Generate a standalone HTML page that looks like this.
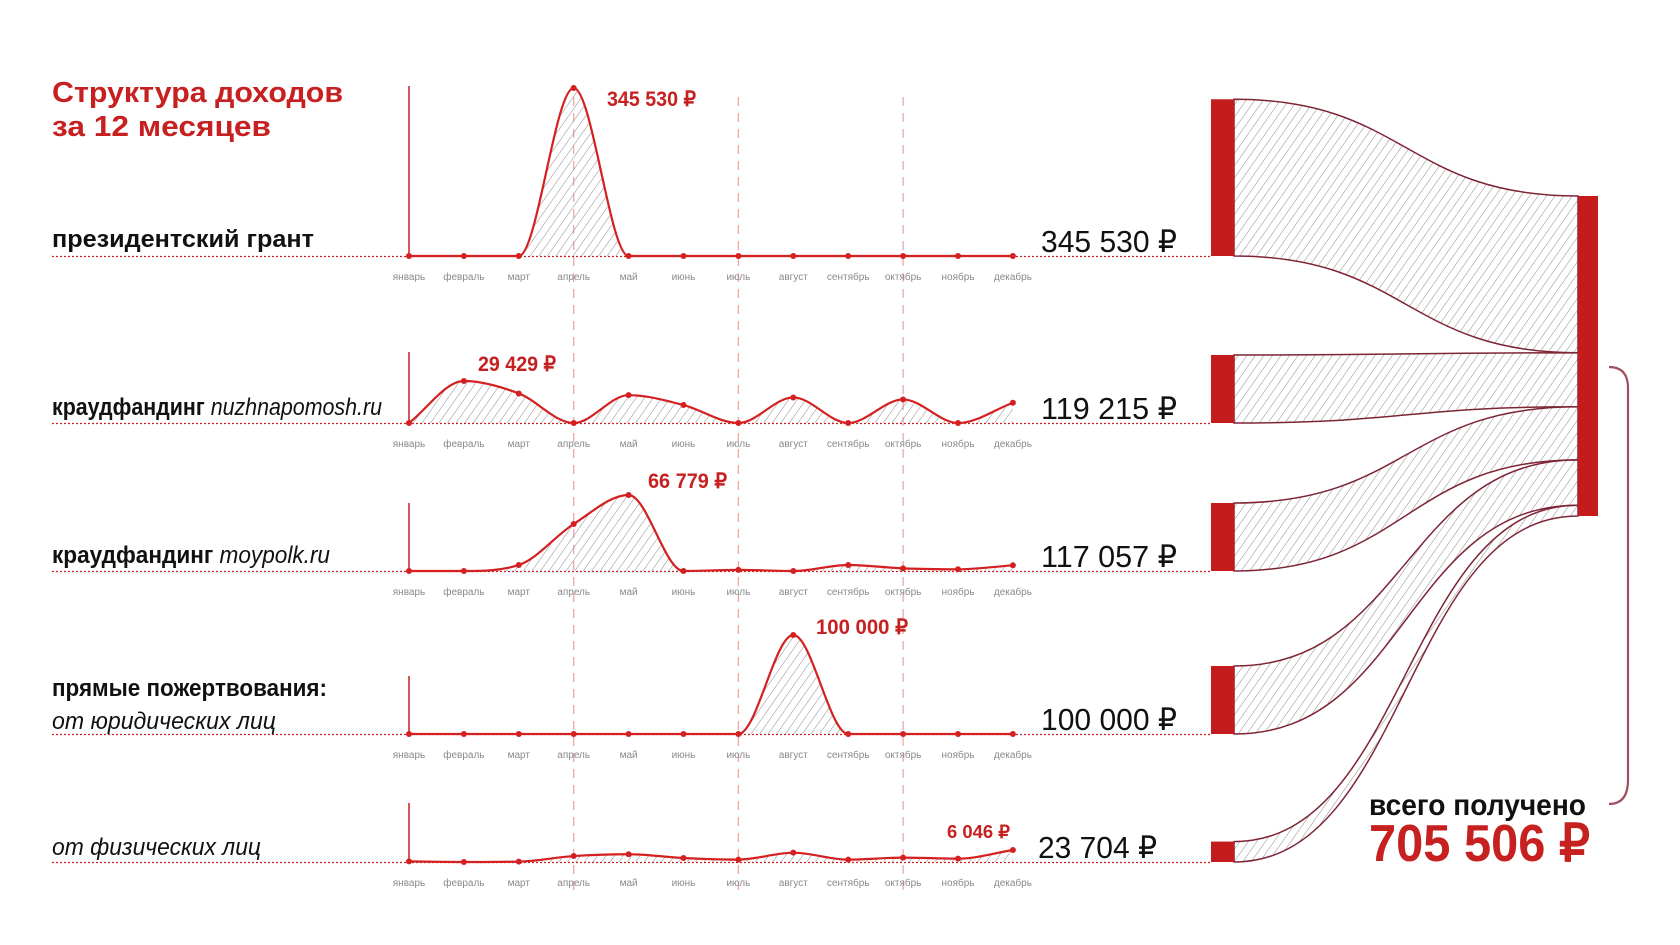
<!DOCTYPE html>
<html><head><meta charset="utf-8">
<style>
html,body{margin:0;padding:0;background:#fff;}
svg{display:block;}
text{font-family:"Liberation Sans Narrow","Liberation Sans",sans-serif;}
</style></head>
<body>
<svg id="chart" width="1680" height="945" viewBox="0 0 1680 945" xmlns="http://www.w3.org/2000/svg">
<defs>
<pattern id="hatch" patternUnits="userSpaceOnUse" width="7" height="7" patternTransform="rotate(35)">
<line x1="0" y1="0" x2="0" y2="7" stroke="#8a8a8a" stroke-width="1"/>
</pattern>
</defs>
<g id="titles">
<text x="52" y="102" font-size="29" font-weight="bold" fill="#c62020" textLength="291" lengthAdjust="spacingAndGlyphs">Структура доходов</text>
<text x="52" y="136" font-size="29" font-weight="bold" fill="#c62020" textLength="219" lengthAdjust="spacingAndGlyphs">за 12 месяцев</text>
<text x="1369" y="815" font-size="30" font-weight="bold" fill="#111" textLength="217" lengthAdjust="spacingAndGlyphs">всего получено</text>
<text x="1369" y="861" font-size="52" font-weight="bold" fill="#c62020" textLength="221" lengthAdjust="spacingAndGlyphs">705 506 ₽</text>
</g>
<g id="rows"></g>
<g id="sankey"></g>
</svg>
<script>
const months = ["январь","февраль","март","апрель","май","июнь","июль","август","сентябрь","октябрь","ноябрь","декабрь"];
const rowTotals = [345530, 119215, 117057, 100000, 23704];
const totalLabels = ["345 530 ₽","119 215 ₽","117 057 ₽","100 000 ₽","23 704 ₽"];
const peakLabels = ["345 530 ₽","29 429 ₽","66 779 ₽","100 000 ₽","6 046 ₽"];
const grantSeries = [0,0,0,345530,0,0,0,0,0,0,0,0];
const nuzhnaSeries = [0,29429,20700,0,19500,12600,0,17900,0,16500,0,14200];
const moypolkSeries = [0,0,5300,41300,66779,0,1000,0,5300,2300,1500,5000];
const legalSeries = [0,0,0,0,0,0,0,100000,0,0,0,0];
const personSeries = [300,0,200,3000,3900,2000,1200,4700,1200,2200,1700,6046];
const series = [grantSeries, nuzhnaSeries, moypolkSeries, legalSeries, personSeries];
const grandTotal = 705506;

const NS="http://www.w3.org/2000/svg";
function el(tag, attrs, parent){const e=document.createElementNS(NS,tag);for(const k in attrs)e.setAttribute(k,attrs[k]);parent.appendChild(e);return e;}

const x0=409, stepX=54.9;
const xMonth = i => x0 + i*stepX;
const baselines=[256,423,571,734,862];
const axisTops=[86,352,503,676,803];
const peakH=[168,42,76,99,12];
const labelDefs=[
 {x:607,y:106,w:89,fs:21},{x:478,y:371,w:78,fs:21},{x:648,y:488,w:79,fs:21},{x:816,y:634,w:92,fs:21},{x:947,y:838,w:63,fs:18}];
const rowNames=[
 [{t:"президентский грант",b:true,i:false,y:247,w:262}],
 [{t:"краудфандинг ",b:true,i:false,y:415,w:0},{t:"nuzhnapomosh.ru",b:false,i:true}],
 [{t:"краудфандинг ",b:true,i:false,y:563,w:0},{t:"moypolk.ru",b:false,i:true}],
 [{t:"прямые пожертвования:",b:true,i:false,y:696,w:275},{t:"от юридических лиц",b:false,i:true,y:729,w:224,sep:true}],
 [{t:"от физических лиц",b:false,i:true,y:855,w:209}]
];

function monoPath(xs, ys){
 const n=xs.length,d=[],m=[];
 for(let i=0;i<n-1;i++) d[i]=(ys[i+1]-ys[i])/(xs[i+1]-xs[i]);
 m[0]=d[0]; m[n-1]=d[n-2];
 for(let i=1;i<n-1;i++){
  if(d[i-1]*d[i]<=0) m[i]=0;
  else { m[i]=(d[i-1]+d[i])/2; const a=m[i]/d[i-1], b=m[i]/d[i]; const s=a*a+b*b; if(s>9){const t=3/Math.sqrt(s); m[i]=t*a*d[i-1];} }
 }
 let p="M"+xs[0]+","+ys[0];
 for(let i=0;i<n-1;i++){const h=xs[i+1]-xs[i];
  p+=" C"+(xs[i]+h/3)+","+(ys[i]+m[i]*h/3)+" "+(xs[i+1]-h/3)+","+(ys[i+1]-m[i+1]*h/3)+" "+xs[i+1]+","+ys[i+1];}
 return p;
}

const rowsG=document.getElementById("rows");
[3,6,9].forEach(i=>{
 const l=el("line",{x1:xMonth(i),x2:xMonth(i),y1:97,y2:892,stroke:"#f2a0a0","stroke-width":1.2,"stroke-dasharray":"9,7"},rowsG);
 
 
});

series.forEach((vals,r)=>{
 const g=el("g",{},rowsG);
 
 
 const base=baselines[r];
 const mx=Math.max(...vals);
 const y=v=>base - v/mx*peakH[r];
 const db=el("line",{x1:52,x2:1212,y1:base+0.5,y2:base+0.5,stroke:"#c62020","stroke-width":1.3,"stroke-dasharray":"2,2"},g);
 
 
 const ax=el("line",{x1:x0,x2:x0,y1:axisTops[r],y2:base,stroke:"#c62020","stroke-width":1.5},g);
 
 
 const xs=vals.map((v,i)=>xMonth(i)), ys=vals.map(v=>y(v));
 const p=monoPath(xs,ys);
 const area=el("path",{d:p+" L"+xs[11]+","+base+" L"+xs[0]+","+base+" Z",fill:"url(#hatch)",stroke:"none"},g);
 
 
 const line=el("path",{d:p,fill:"none",stroke:"#d42020","stroke-width":2.2},g);
 
 
 vals.forEach((v,i)=>{
  const c=el("circle",{cx:xs[i],cy:ys[i],r:3,fill:"#d42020"},g);
  
  
  const t=el("text",{x:xs[i],y:base+24,"font-size":10,fill:"#8a8a8a","text-anchor":"middle"},g);
  t.textContent=months[i];
  
  
 });
 const L=labelDefs[r];
 const pl=el("text",{x:L.x,y:L.y,"font-size":L.fs,"font-weight":"bold",fill:"#c62020",textLength:L.w,lengthAdjust:"spacingAndGlyphs"},g);
 pl.textContent=peakLabels[r];
 
 
 const tl=el("text",{x:1041,y:base-4,"font-size":31,fill:"#111",textLength:(r==4?119:136),lengthAdjust:"spacingAndGlyphs"},g);
 if(r==4) tl.setAttribute("x",1038);
 tl.textContent=totalLabels[r];
 
 
 const nm=rowNames[r];
 if(nm.length==2 && !nm[1].sep){
  const t=el("text",{x:52,y:nm[0].y,"font-size":24,fill:"#111"},g);
  const s1=el("tspan",{"font-weight":"bold"},t); s1.textContent=nm[0].t;
  const s2=el("tspan",{"font-style":"italic"},t); s2.textContent=nm[1].t;
  t.setAttribute("textLength", r==1?330:278); t.setAttribute("lengthAdjust","spacingAndGlyphs");
  
  
 } else {
  nm.forEach(n=>{
   const t=el("text",{x:52,y:n.y,"font-size":24,fill:"#111","font-weight":n.b?"bold":"normal","font-style":n.i?"italic":"normal",textLength:n.w,lengthAdjust:"spacingAndGlyphs"},g);
   t.textContent=n.t;
   
   
  });
 }
});

const sg=document.getElementById("sankey");
const k=320/grandTotal, rx=1578, rTop=196, lx=1234;
let acc=rTop;
rowTotals.forEach((v,r)=>{
 const h=v*k;
 const lh=Math.max(h, Math.min(68, h*1.9));
 const lb=baselines[r], lt=lb-lh;
 const rt=acc, rb=acc+h; acc=rb;
 const mxp=(lx+rx)/2;
 const d="M"+lx+","+lt+" C"+mxp+","+lt+" "+mxp+","+rt+" "+rx+","+rt+" L"+rx+","+rb+" C"+mxp+","+rb+" "+mxp+","+lb+" "+lx+","+lb+" Z";
 const f=el("path",{d:d,fill:"url(#hatch)",stroke:"#7e2535","stroke-width":1.5},sg);
 
 
 const b=el("rect",{x:1211,y:lt,width:23,height:lh,fill:"#c41c1c"},sg);
 
 
});
const tb=el("rect",{x:rx,y:rTop,width:20,height:acc-rTop,fill:"#c41c1c"},sg);


const br=el("path",{d:"M1609,367 Q1628,367 1628,388 L1628,780 Q1628,804 1609,804",fill:"none",stroke:"#a0505e","stroke-width":2.2},sg);


</script>
</body></html>
